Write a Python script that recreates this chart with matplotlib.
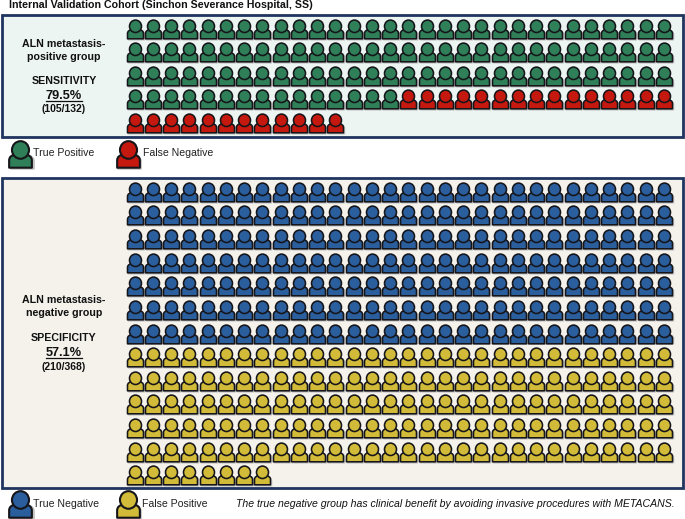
import numpy as np
import matplotlib
matplotlib.use("Agg")
import matplotlib.pyplot as plt
from matplotlib.path import Path
from matplotlib.patches import Rectangle

plt.rcParams['font.family'] = ['Liberation Sans', 'DejaVu Sans']

title = "Internal Validation Cohort (Sinchon Severance Hospital, SS)"
positive_counts = [105, 27]
positive_labels = ["True Positive", "False Negative"]
negative_counts = [210, 158]
negative_labels = ["True Negative", "False Positive"]
sensitivity = "79.5%"
sensitivity_frac = "(105/132)"
specificity = "57.1%"
specificity_frac = "(210/368)"
note = "The true negative group has clinical benefit by avoiding invasive procedures with METACANS."

W, H = 685, 519
COLS = 30
DX = 18.25
DY = 23.62
X0 = 134.7
PX_PT = 72 / 100

C_POS = ['#2F7F58', '#C5190F']
C_NEG = ['#2A5E9C', '#D2BB38']
EDGE = '#15151a'
SHADOW = '#c4c4c4'

# Marker outlines in icon pixels; marker space has y pointing up
t = Path.unit_circle()
head = Path(t.vertices * [6.0, 6.2] + [0, 3.2], t.codes)
body = Path(
    [(-8.0, -9.3), (-8.0, -4.2), (-8.0, -1.6), (-6.2, -0.6), (-3.6, 0.2),
     (3.6, 0.2), (6.2, -0.6), (8.0, -1.6), (8.0, -4.2), (8.0, -9.3), (-8.0, -9.3)],
    [Path.MOVETO, Path.LINETO, Path.CURVE4, Path.CURVE4, Path.CURVE4,
     Path.LINETO, Path.CURVE4, Path.CURVE4, Path.CURVE4, Path.LINETO, Path.CLOSEPOLY])

def marker_size(path, scale):
    # custom markers are normalised by their largest coordinate
    return (2 * np.max(np.abs(path.vertices)) * scale * PX_PT) ** 2

def draw_icons(ax, xs, ys, color, scale=1.0, lw=1.15):
    xs = np.asarray(xs, dtype=float)
    ys = np.asarray(ys, dtype=float)
    ax.scatter(xs + 0.9 * scale, ys + 0.9 * scale, s=marker_size(body, scale),
               marker=body, c=SHADOW, linewidths=lw, edgecolors=SHADOW, zorder=2)
    for path in (body, head):
        ax.scatter(xs, ys, s=marker_size(path, scale), marker=path, c=color,
                   linewidths=lw, edgecolors=EDGE, zorder=3)

def draw_grid(ax, counts, colors, y0):
    start = 0
    for n, c in zip(counts, colors):
        idx = np.arange(start, start + n)
        xs = X0 + (idx % COLS) * DX
        ys = y0 + (idx // COLS) * DY
        draw_icons(ax, xs, ys, c)
        start += n

fig = plt.figure(figsize=(W / 100, H / 100), dpi=100)
ax = fig.add_axes([0, 0, 1, 1])
ax.set_xlim(0, W)
ax.set_ylim(H, 0)
ax.axis('off')

ax.add_patch(Rectangle((2, 15), 681, 122, fc='#EDF5F3', ec='#1F3560', lw=2.0, zorder=1))
ax.add_patch(Rectangle((2, 177.5), 681, 310.5, fc='#F5F2EC', ec='#1F3560', lw=2.0, zorder=1))

draw_grid(ax, positive_counts, C_POS, 28.6)
draw_grid(ax, negative_counts, C_NEG, 191.8)

FS = 7.65
tc = '#111111'
ax.text(9, 5, title, fontsize=7.62, fontweight='bold', ha='left', va='center', color=tc)

def block(y_list, lines, pct, frac):
    kw = dict(ha='center', va='center', color=tc, fontweight='bold')
    ax.text(64, y_list[0], lines[0], fontsize=FS, **kw)
    ax.text(64, y_list[1], lines[1], fontsize=FS, **kw)
    ax.text(64, y_list[2], lines[2], fontsize=FS, **kw)
    ax.text(64, y_list[3], pct, fontsize=9.2, **kw)
    ax.plot([46, 82], [y_list[3] + 5.2] * 2, color=tc, lw=0.9, zorder=4)
    ax.text(64, y_list[4], frac, fontsize=7.5, **kw)

block([44, 56.5, 81.5, 96, 109.5], ["ALN metastasis-", "positive group", "SENSITIVITY"], sensitivity, sensitivity_frac)
block([300, 313, 338, 352.5, 366.5], ["ALN metastasis-", "negative group", "SPECIFICITY"], specificity, specificity_frac)

L = 1.42
draw_icons(ax, [20.3], [153.5], C_POS[0], scale=L, lw=1.5)
draw_icons(ax, [127.8], [153.5], C_POS[1], scale=L, lw=1.5)
draw_icons(ax, [20.3], [503.5], C_NEG[0], scale=L, lw=1.5)
draw_icons(ax, [127.8], [503.5], C_NEG[1], scale=L, lw=1.5)

lt = dict(fontsize=7.6, ha='left', va='center', color='#222222')
ax.text(33.5, 153.5, positive_labels[0], **lt)
ax.text(143.5, 153.5, positive_labels[1], **lt)
ax.text(33.5, 504, negative_labels[0], **lt)
ax.text(142.5, 504, negative_labels[1], **lt)
ax.text(236.5, 504, note, fontsize=7.6, style='italic', ha='left', va='center', color=tc)

fig.savefig('out.png', dpi=100)
